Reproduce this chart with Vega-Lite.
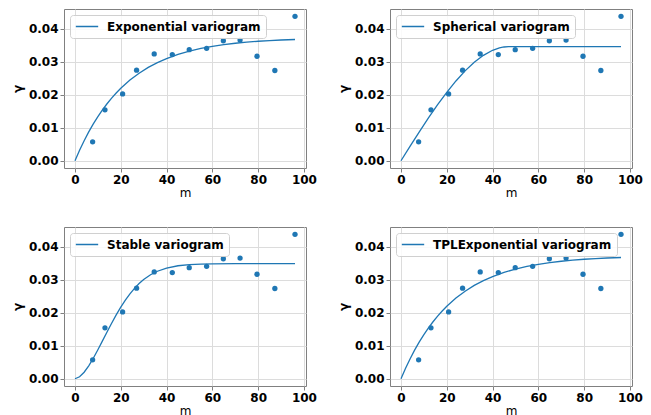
{
  "$schema": "https://vega.github.io/schema/vega-lite/v6.json",
  "background": "white",
  "padding": {"left": 10, "top": 8, "right": 5, "bottom": 0},
  "config": {
    "font": "DejaVu Sans",
    "view": {"stroke": "#808080", "strokeWidth": 1},
    "axis": {
      "grid": true, "gridColor": "#dcdcdc", "gridWidth": 1,
      "domain": false, "tickColor": "#808080", "tickSize": 4,
      "labelFont": "DejaVu Sans", "labelFontWeight": "bold", "labelFontSize": 12,
      "labelColor": "black", "labelPadding": 2, "labelFlush": false, "labelOverlap": false,
      "titleFont": "DejaVu Sans", "titleFontSize": 12, "titleColor": "black", "titleFontWeight": "normal"
    },
    "axisX": {"titlePadding": 2},
    "axisY": {"titleFontWeight": "bold", "titlePadding": 4},
    "legend": {
      "orient": "top-left", "offset": 6, "symbolType": "stroke", "symbolStrokeWidth": 1.3,
      "symbolSize": 500, "clipHeight": 13, "labelFont": "DejaVu Sans", "labelFontWeight": "bold", "labelFontSize": 12,
      "labelColor": "black", "strokeColor": "#d0d0d0", "fillColor": "rgba(255,255,255,0.85)",
      "cornerRadius": 3, "padding": 5, "labelOffset": 8, "labelLimit": 300
    }
  },
  "resolve": {"scale": {"color": "independent", "x": "independent", "y": "independent"}, "legend": {"color": "independent"}},
  "datasets": {
    "emp": [
      {"h": 7.7, "g": 0.00573}, {"h": 13.1, "g": 0.0154}, {"h": 20.8, "g": 0.0202},
      {"h": 26.9, "g": 0.0274}, {"h": 34.6, "g": 0.0323}, {"h": 42.5, "g": 0.0321},
      {"h": 49.9, "g": 0.0336}, {"h": 57.5, "g": 0.0340}, {"h": 64.8, "g": 0.0363},
      {"h": 72.1, "g": 0.0365}, {"h": 79.5, "g": 0.0316}, {"h": 87.3, "g": 0.0273},
      {"h": 96.1, "g": 0.0437}
    ],
    "fit": [
      {"model": "Exponential variogram", "h": 0, "g": 0},
      {"model": "Exponential variogram", "h": 2, "g": 0.00317},
      {"model": "Exponential variogram", "h": 4, "g": 0.00606},
      {"model": "Exponential variogram", "h": 6, "g": 0.00871},
      {"model": "Exponential variogram", "h": 8, "g": 0.01113},
      {"model": "Exponential variogram", "h": 10, "g": 0.01335},
      {"model": "Exponential variogram", "h": 12, "g": 0.01538},
      {"model": "Exponential variogram", "h": 14, "g": 0.01723},
      {"model": "Exponential variogram", "h": 16, "g": 0.01893},
      {"model": "Exponential variogram", "h": 18, "g": 0.02049},
      {"model": "Exponential variogram", "h": 20, "g": 0.02191},
      {"model": "Exponential variogram", "h": 24, "g": 0.0244},
      {"model": "Exponential variogram", "h": 28, "g": 0.02648},
      {"model": "Exponential variogram", "h": 32, "g": 0.02823},
      {"model": "Exponential variogram", "h": 36, "g": 0.02969},
      {"model": "Exponential variogram", "h": 40, "g": 0.03091},
      {"model": "Exponential variogram", "h": 45, "g": 0.03217},
      {"model": "Exponential variogram", "h": 50, "g": 0.03317},
      {"model": "Exponential variogram", "h": 55, "g": 0.03397},
      {"model": "Exponential variogram", "h": 60, "g": 0.03461},
      {"model": "Exponential variogram", "h": 65, "g": 0.03513},
      {"model": "Exponential variogram", "h": 70, "g": 0.03554},
      {"model": "Exponential variogram", "h": 75, "g": 0.03587},
      {"model": "Exponential variogram", "h": 80, "g": 0.03614},
      {"model": "Exponential variogram", "h": 85, "g": 0.03635},
      {"model": "Exponential variogram", "h": 90, "g": 0.03652},
      {"model": "Exponential variogram", "h": 96.1, "g": 0.03668},
      {"model": "Spherical variogram", "h": 0, "g": 0},
      {"model": "Spherical variogram", "h": 4, "g": 0.00439},
      {"model": "Spherical variogram", "h": 8, "g": 0.00872},
      {"model": "Spherical variogram", "h": 12, "g": 0.01293},
      {"model": "Spherical variogram", "h": 16, "g": 0.01694},
      {"model": "Spherical variogram", "h": 20, "g": 0.0207},
      {"model": "Spherical variogram", "h": 24, "g": 0.02413},
      {"model": "Spherical variogram", "h": 28, "g": 0.02718},
      {"model": "Spherical variogram", "h": 32, "g": 0.02979},
      {"model": "Spherical variogram", "h": 36, "g": 0.03189},
      {"model": "Spherical variogram", "h": 40, "g": 0.03341},
      {"model": "Spherical variogram", "h": 43, "g": 0.03413},
      {"model": "Spherical variogram", "h": 45, "g": 0.03441},
      {"model": "Spherical variogram", "h": 47, "g": 0.0345},
      {"model": "Spherical variogram", "h": 96.1, "g": 0.0345},
      {"model": "Stable variogram", "h": 0, "g": 0},
      {"model": "Stable variogram", "h": 2, "g": 0.000597},
      {"model": "Stable variogram", "h": 4, "g": 0.00197},
      {"model": "Stable variogram", "h": 6, "g": 0.00389},
      {"model": "Stable variogram", "h": 8, "g": 0.00619},
      {"model": "Stable variogram", "h": 10, "g": 0.00875},
      {"model": "Stable variogram", "h": 12, "g": 0.01144},
      {"model": "Stable variogram", "h": 14, "g": 0.01415},
      {"model": "Stable variogram", "h": 16, "g": 0.0168},
      {"model": "Stable variogram", "h": 18, "g": 0.01932},
      {"model": "Stable variogram", "h": 20, "g": 0.02167},
      {"model": "Stable variogram", "h": 22, "g": 0.02379},
      {"model": "Stable variogram", "h": 24, "g": 0.02569},
      {"model": "Stable variogram", "h": 26, "g": 0.02735},
      {"model": "Stable variogram", "h": 28, "g": 0.02879},
      {"model": "Stable variogram", "h": 30, "g": 0.03},
      {"model": "Stable variogram", "h": 33, "g": 0.03145},
      {"model": "Stable variogram", "h": 36, "g": 0.03252},
      {"model": "Stable variogram", "h": 40, "g": 0.03349},
      {"model": "Stable variogram", "h": 45, "g": 0.03418},
      {"model": "Stable variogram", "h": 50, "g": 0.03453},
      {"model": "Stable variogram", "h": 55, "g": 0.03469},
      {"model": "Stable variogram", "h": 60, "g": 0.03476},
      {"model": "Stable variogram", "h": 70, "g": 0.0348},
      {"model": "Stable variogram", "h": 96.1, "g": 0.0348},
      {"model": "TPLExponential variogram", "h": 0, "g": 0},
      {"model": "TPLExponential variogram", "h": 2, "g": 0.00317},
      {"model": "TPLExponential variogram", "h": 4, "g": 0.00606},
      {"model": "TPLExponential variogram", "h": 6, "g": 0.00871},
      {"model": "TPLExponential variogram", "h": 8, "g": 0.01113},
      {"model": "TPLExponential variogram", "h": 10, "g": 0.01335},
      {"model": "TPLExponential variogram", "h": 12, "g": 0.01538},
      {"model": "TPLExponential variogram", "h": 14, "g": 0.01723},
      {"model": "TPLExponential variogram", "h": 16, "g": 0.01893},
      {"model": "TPLExponential variogram", "h": 18, "g": 0.02049},
      {"model": "TPLExponential variogram", "h": 20, "g": 0.02191},
      {"model": "TPLExponential variogram", "h": 24, "g": 0.0244},
      {"model": "TPLExponential variogram", "h": 28, "g": 0.02648},
      {"model": "TPLExponential variogram", "h": 32, "g": 0.02823},
      {"model": "TPLExponential variogram", "h": 36, "g": 0.02969},
      {"model": "TPLExponential variogram", "h": 40, "g": 0.03091},
      {"model": "TPLExponential variogram", "h": 45, "g": 0.03217},
      {"model": "TPLExponential variogram", "h": 50, "g": 0.03317},
      {"model": "TPLExponential variogram", "h": 55, "g": 0.03397},
      {"model": "TPLExponential variogram", "h": 60, "g": 0.03461},
      {"model": "TPLExponential variogram", "h": 65, "g": 0.03513},
      {"model": "TPLExponential variogram", "h": 70, "g": 0.03554},
      {"model": "TPLExponential variogram", "h": 75, "g": 0.03587},
      {"model": "TPLExponential variogram", "h": 80, "g": 0.03614},
      {"model": "TPLExponential variogram", "h": 85, "g": 0.03635},
      {"model": "TPLExponential variogram", "h": 90, "g": 0.03652},
      {"model": "TPLExponential variogram", "h": 96.1, "g": 0.03668}
    ]
  },
  "columns": 2,
  "spacing": {"row": 27, "column": 19},
  "concat": [
    {
      "width": 242, "height": 159,
      "encoding": {
        "x": {"field": "h", "type": "quantitative", "scale": {"domain": [-4.8, 100.9], "nice": false, "zero": false}, "axis": {"values": [0, 20, 40, 60, 80, 100], "title": "m"}},
        "y": {"field": "g", "type": "quantitative", "scale": {"domain": [-0.0022, 0.0459], "nice": false, "zero": false}, "axis": {"values": [0, 0.01, 0.02, 0.03, 0.04], "format": ".2f", "title": "γ"}}
      },
      "layer": [
        {
          "data": {"name": "fit"},
          "transform": [{"filter": "datum.model === 'Exponential variogram'"}],
          "mark": {"type": "line", "strokeWidth": 1.3},
          "encoding": {
            "color": {"field": "model", "type": "nominal", "scale": {"range": ["#1f77b4"]}, "legend": {"title": null}}
          }
        },
        {
          "data": {"name": "emp"},
          "mark": {"type": "circle", "size": 28, "color": "#1f77b4", "opacity": 1},
          "encoding": {}
        }
      ]
    },
    {
      "width": 242, "height": 159,
      "encoding": {
        "x": {"field": "h", "type": "quantitative", "scale": {"domain": [-4.8, 100.9], "nice": false, "zero": false}, "axis": {"values": [0, 20, 40, 60, 80, 100], "title": "m"}},
        "y": {"field": "g", "type": "quantitative", "scale": {"domain": [-0.0022, 0.0459], "nice": false, "zero": false}, "axis": {"values": [0, 0.01, 0.02, 0.03, 0.04], "format": ".2f", "title": "γ"}}
      },
      "layer": [
        {
          "data": {"name": "fit"},
          "transform": [{"filter": "datum.model === 'Spherical variogram'"}],
          "mark": {"type": "line", "strokeWidth": 1.3},
          "encoding": {
            "color": {"field": "model", "type": "nominal", "scale": {"range": ["#1f77b4"]}, "legend": {"title": null}}
          }
        },
        {
          "data": {"name": "emp"},
          "mark": {"type": "circle", "size": 28, "color": "#1f77b4", "opacity": 1},
          "encoding": {}
        }
      ]
    },
    {
      "width": 242, "height": 159,
      "encoding": {
        "x": {"field": "h", "type": "quantitative", "scale": {"domain": [-4.8, 100.9], "nice": false, "zero": false}, "axis": {"values": [0, 20, 40, 60, 80, 100], "title": "m"}},
        "y": {"field": "g", "type": "quantitative", "scale": {"domain": [-0.0022, 0.0459], "nice": false, "zero": false}, "axis": {"values": [0, 0.01, 0.02, 0.03, 0.04], "format": ".2f", "title": "γ"}}
      },
      "layer": [
        {
          "data": {"name": "fit"},
          "transform": [{"filter": "datum.model === 'Stable variogram'"}],
          "mark": {"type": "line", "strokeWidth": 1.3},
          "encoding": {
            "color": {"field": "model", "type": "nominal", "scale": {"range": ["#1f77b4"]}, "legend": {"title": null}}
          }
        },
        {
          "data": {"name": "emp"},
          "mark": {"type": "circle", "size": 28, "color": "#1f77b4", "opacity": 1},
          "encoding": {}
        }
      ]
    },
    {
      "width": 242, "height": 159,
      "encoding": {
        "x": {"field": "h", "type": "quantitative", "scale": {"domain": [-4.8, 100.9], "nice": false, "zero": false}, "axis": {"values": [0, 20, 40, 60, 80, 100], "title": "m"}},
        "y": {"field": "g", "type": "quantitative", "scale": {"domain": [-0.0022, 0.0459], "nice": false, "zero": false}, "axis": {"values": [0, 0.01, 0.02, 0.03, 0.04], "format": ".2f", "title": "γ"}}
      },
      "layer": [
        {
          "data": {"name": "fit"},
          "transform": [{"filter": "datum.model === 'TPLExponential variogram'"}],
          "mark": {"type": "line", "strokeWidth": 1.3},
          "encoding": {
            "color": {"field": "model", "type": "nominal", "scale": {"range": ["#1f77b4"]}, "legend": {"title": null}}
          }
        },
        {
          "data": {"name": "emp"},
          "mark": {"type": "circle", "size": 28, "color": "#1f77b4", "opacity": 1},
          "encoding": {}
        }
      ]
    }
  ]
}
